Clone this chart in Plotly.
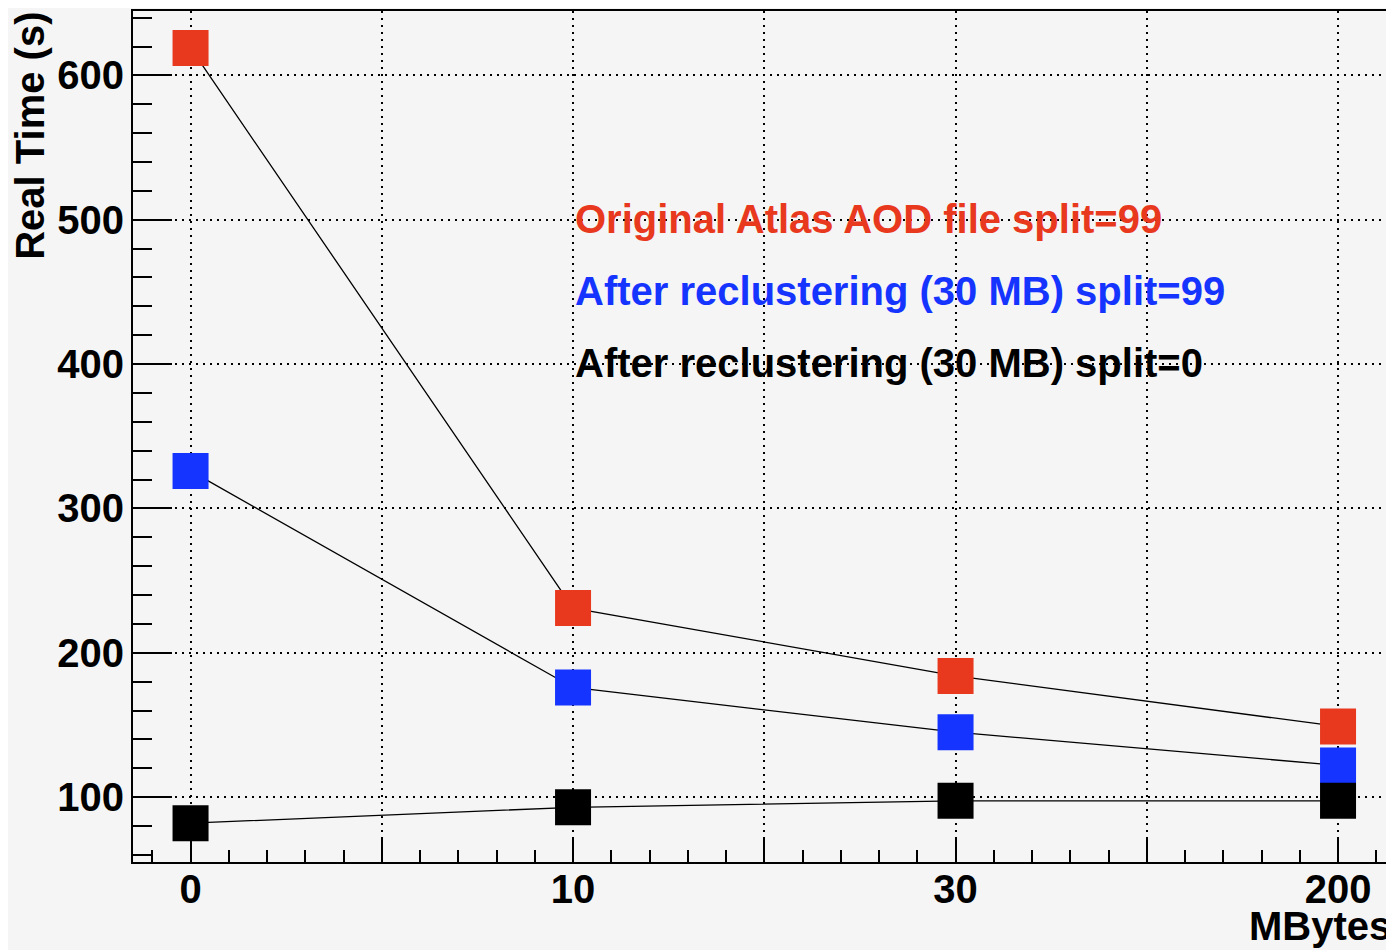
import plotly.graph_objects as go

# ---- data ----
categories = ["0", "10", "30", "200"]          # x tick labels (MBytes)
red_values = [619, 231, 184, 149]               # Original Atlas AOD file split=99
blue_values = [326, 176, 145, 122]              # After reclustering (30 MB) split=99
black_values = [82, 93, 97.5, 97.5]             # After reclustering (30 MB) split=0
series_names = [
    "Original Atlas AOD file split=99",
    "After reclustering (30 MB) split=99",
    "After reclustering (30 MB) split=0",
]
series_colors = ["#E8391F", "#1634FF", "#000000"]
y_label = "Real Time (s)"
x_label = "MBytes"

x_pos = list(range(len(categories)))
FONT = "Liberation Sans"
BG = "#F5F5F5"

fig = go.Figure()
for vals, name, col in zip([red_values, blue_values, black_values], series_names, series_colors):
    fig.add_trace(go.Scatter(
        x=x_pos, y=vals, mode="lines+markers", name=name,
        line=dict(color="black", width=1.3),
        marker=dict(symbol="square", size=36, color=col, line=dict(width=0)),
        showlegend=False,
    ))

# major x ticks every half category, labels only on categories
tickvals = []
ticktext = []
for i, c in enumerate(categories):
    tickvals.append(i)
    ticktext.append(c)
    if i < len(categories) - 1:
        tickvals.append(i + 0.5)
        ticktext.append("")

# page has an 8px body margin; figure sized to fit 1394x950 viewport
OFF = 8
W, H = 1386, 942
ml, mr, mt, mb = 125, 2, 1, 88
pw = W - ml - mr
ph = H - mt - mb
px_per_cat = 382.8
x0 = -57.6 / px_per_cat
x1 = x0 + pw / px_per_cat

fig.update_layout(
    width=W, height=H, autosize=False,
    margin=dict(l=ml, r=mr, t=mt, b=mb, pad=0),
    paper_bgcolor=BG, plot_bgcolor=BG,
    font=dict(family=FONT, size=40, color="black", weight="bold"),
    xaxis=dict(
        range=[x0, x1], tickmode="array", tickvals=tickvals, ticktext=ticktext,
        ticks="inside", ticklen=25, tickwidth=2, tickcolor="black",
        showline=True, linewidth=2, linecolor="black", mirror=True,
        showgrid=True, gridcolor="black", gridwidth=1.5, griddash="2px,5px",
        zeroline=False, ticklabelstandoff=-9,
        tickfont=dict(family=FONT, size=40, weight="bold"),
        minor=dict(tickmode="linear", tick0=0, dtick=0.1, ticks="inside",
                   ticklen=12, tickwidth=2, tickcolor="black", showgrid=False),
    ),
    yaxis=dict(
        range=[55.1, 644.6], tickmode="linear", tick0=0, dtick=100,
        ticks="inside", ticklen=39, tickwidth=2, tickcolor="black",
        showline=True, linewidth=2, linecolor="black", mirror=True,
        showgrid=True, gridcolor="black", gridwidth=1.5, griddash="2px,5px",
        zeroline=False, ticklabelstandoff=-1,
        tickfont=dict(family=FONT, size=40, weight="bold"),
        minor=dict(tickmode="linear", tick0=0, dtick=20, ticks="inside",
                   ticklen=19, tickwidth=2, tickcolor="black", showgrid=False),
    ),
)

def py(pix):
    return (H - mb - (pix - OFF)) / ph

def pxp(pix):
    return (pix - OFF - ml) / pw

annotations = []
# legend texts
leg_y = [217.5, 289.5, 362]
for name, col, yy in zip(series_names, series_colors, leg_y):
    annotations.append(dict(
        xref="paper", yref="paper", x=pxp(573), y=py(yy),
        xanchor="left", yanchor="middle", showarrow=False, text=name,
        font=dict(family=FONT, size=40, color=col, weight="bold"),
    ))
# axis titles
annotations.append(dict(
    xref="paper", yref="paper", x=pxp(30), y=py(134),
    xanchor="center", yanchor="middle", textangle=-90, showarrow=False,
    text=y_label, font=dict(family=FONT, size=40, color="black", weight="bold"),
))
annotations.append(dict(
    xref="paper", yref="paper", x=1, y=py(926), xshift=mr,
    xanchor="right", yanchor="middle", showarrow=False,
    text=x_label, font=dict(family=FONT, size=40, color="black", weight="bold"),
))
fig.update_layout(annotations=annotations)

fig.write_html("out.html")
